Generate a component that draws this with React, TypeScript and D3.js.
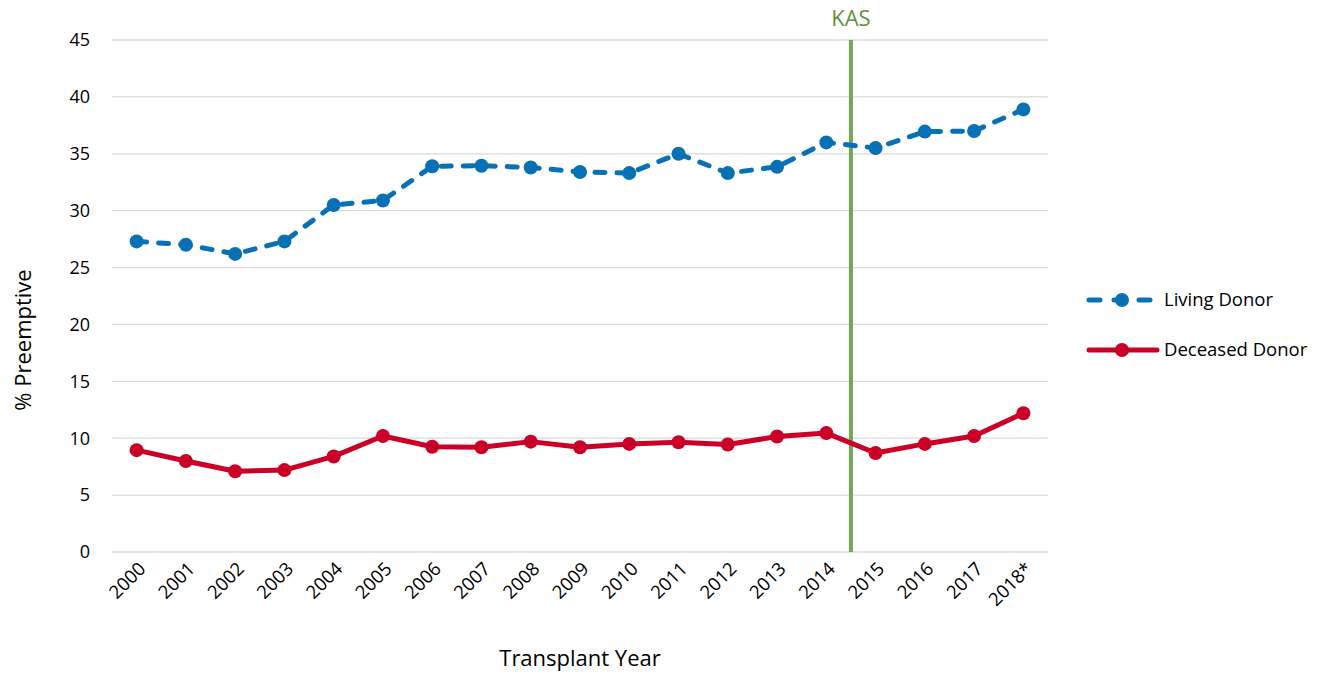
import { useEffect, useRef } from "react";
import * as d3 from "d3";

const years = ["2000", "2001", "2002", "2003", "2004", "2005", "2006", "2007", "2008", "2009",
  "2010", "2011", "2012", "2013", "2014", "2015", "2016", "2017", "2018*"];
const livingDonor = [27.3, 27.0, 26.2, 27.3, 30.5, 30.9, 33.9, 33.95, 33.8, 33.4,
  33.3, 35.0, 33.3, 33.85, 36.0, 35.5, 36.95, 37.0, 38.9];
const deceasedDonor = [8.95, 8.0, 7.1, 7.2, 8.4, 10.2, 9.25, 9.2, 9.7, 9.2,
  9.5, 9.65, 9.45, 10.15, 10.45, 8.7, 9.5, 10.2, 12.2];
const yTicks = [0, 5, 10, 15, 20, 25, 30, 35, 40, 45];

const font = "'Open Sans', 'Noto Sans', sans-serif";

export default function App() {
  const ref = useRef<HTMLDivElement>(null);

  useEffect(() => {
    const w = 1343, h = 677;
    const m = { left: 112, right: 1048, top: 40, bottom: 552 };

    const svg = d3.select(ref.current).html("").append("svg")
      .attr("width", w).attr("height", h)
      .style("position", "absolute").style("left", 0).style("top", 0)
      .style("font-family", font);

    const x = d3.scalePoint<string>().domain(years).range([m.left, m.right]).padding(0.5);
    const y = d3.scaleLinear().domain([0, 45]).range([m.bottom, m.top]);

    // gridlines
    svg.append("g").selectAll("line").data(yTicks).enter().append("line")
      .attr("x1", m.left).attr("x2", m.right)
      .attr("y1", (d) => y(d)).attr("y2", (d) => y(d))
      .attr("stroke", "#d9d9d9").attr("stroke-width", 1.3);

    svg.append("g").selectAll("text").data(yTicks).enter().append("text")
      .attr("x", 90).attr("y", (d) => y(d)).attr("dy", "0.35em")
      .attr("text-anchor", "end").attr("font-size", 18).attr("fill", "#000")
      .text((d) => d);

    svg.append("g").selectAll("text").data(years).enter().append("text")
      .attr("transform", (d) => `translate(${x(d)! + 10},${570}) rotate(-45)`)
      .attr("text-anchor", "end").attr("font-size", 18.5).attr("fill", "#000")
      .text((d) => d);

    svg.append("text").attr("x", 580).attr("y", 666).attr("text-anchor", "middle")
      .attr("font-size", 22).text("Transplant Year");
    svg.append("text").attr("transform", `translate(31,${340}) rotate(-90)`)
      .attr("text-anchor", "middle").attr("font-size", 22).text("% Preemptive");

    // KAS line
    const kasX = (x("2014")! + x("2015")!) / 2;
    svg.append("line").attr("x1", kasX).attr("x2", kasX).attr("y1", m.top).attr("y2", m.bottom)
      .attr("stroke", "#70a856").attr("stroke-width", 4);
    svg.append("text").attr("x", kasX).attr("y", 26).attr("text-anchor", "middle")
      .attr("font-size", 22).attr("fill", "#5f9140").text("KAS");

    const line = d3.line<number>().x((_, i) => x(years[i])!).y((d) => y(d));

    const series = [
      { name: "Living Donor", data: livingDonor, color: "#0870b4", dash: "10,12" },
      { name: "Deceased Donor", data: deceasedDonor, color: "#cb0027", dash: null },
    ];

    series.forEach((s, si) => {
      svg.append("path").datum(s.data).attr("d", line)
        .attr("fill", "none").attr("stroke", s.color).attr("stroke-width", 5)
        .attr("stroke-linecap", "round").attr("stroke-linejoin", "round")
        .attr("stroke-dasharray", s.dash);
      svg.append("g").selectAll("circle").data(s.data).enter().append("circle")
        .attr("cx", (_, i) => x(years[i])!).attr("cy", (d) => y(d))
        .attr("r", 7).attr("fill", s.color);

      const ly = 300 + si * 50;
      svg.append("line").attr("x1", 1089).attr("x2", 1157).attr("y1", ly).attr("y2", ly)
        .attr("stroke", s.color).attr("stroke-width", 5).attr("stroke-linecap", "round")
        .attr("stroke-dasharray", s.dash ? "11,14" : null);
      svg.append("circle").attr("cx", 1122).attr("cy", ly).attr("r", 7).attr("fill", s.color);
      svg.append("text").attr("x", 1164).attr("y", ly).attr("dy", "0.35em")
        .attr("font-size", 18.5).text(s.name);
    });
  }, []);

  return <div ref={ref}></div>;
}
